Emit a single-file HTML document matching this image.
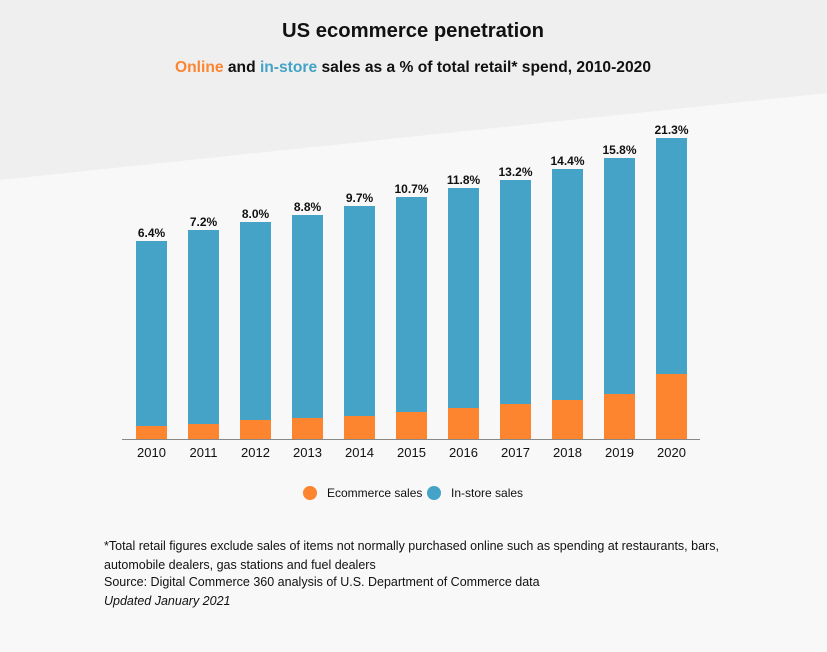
<!DOCTYPE html>
<html><head><meta charset="utf-8"><style>
html,body{margin:0;padding:0;background:#f8f8f8;}
svg{display:block;font-family:"Liberation Sans",sans-serif;}
</style></head><body>
<svg width="827" height="652" viewBox="0 0 827 652" xmlns="http://www.w3.org/2000/svg">
<rect width="827" height="652" fill="#f8f8f8"/>
<polygon points="0,0 827,0 827,93 0,180" fill="#efefef"/>
<text x="413" y="37" text-anchor="middle" font-size="20" font-weight="bold" fill="#111" textLength="262" lengthAdjust="spacingAndGlyphs">US ecommerce penetration</text>
<text x="413" y="72" text-anchor="middle" font-size="16" font-weight="bold" fill="#111" textLength="476" lengthAdjust="spacingAndGlyphs"><tspan fill="#fd8530">Online</tspan> and <tspan fill="#44a3c6">in-store</tspan> sales as a % of total retail* spend, 2010-2020</text>
<g id="bars" font-size="12" font-weight="bold" fill="#111" text-anchor="middle">
<rect x="136" y="241" width="31" height="185" fill="#44a3c6"/><rect x="136" y="426" width="31" height="13" fill="#fd8530"/><text x="151.5" y="237">6.4%</text><text x="151.5" y="457" font-weight="normal" font-size="13">2010</text>
<rect x="188" y="230" width="31" height="194" fill="#44a3c6"/><rect x="188" y="424" width="31" height="15" fill="#fd8530"/><text x="203.5" y="226">7.2%</text><text x="203.5" y="457" font-weight="normal" font-size="13">2011</text>
<rect x="240" y="222" width="31" height="198" fill="#44a3c6"/><rect x="240" y="420" width="31" height="19" fill="#fd8530"/><text x="255.5" y="218">8.0%</text><text x="255.5" y="457" font-weight="normal" font-size="13">2012</text>
<rect x="292" y="215" width="31" height="203" fill="#44a3c6"/><rect x="292" y="418" width="31" height="21" fill="#fd8530"/><text x="307.5" y="211">8.8%</text><text x="307.5" y="457" font-weight="normal" font-size="13">2013</text>
<rect x="344" y="206" width="31" height="210" fill="#44a3c6"/><rect x="344" y="416" width="31" height="23" fill="#fd8530"/><text x="359.5" y="202">9.7%</text><text x="359.5" y="457" font-weight="normal" font-size="13">2014</text>
<rect x="396" y="197" width="31" height="215" fill="#44a3c6"/><rect x="396" y="412" width="31" height="27" fill="#fd8530"/><text x="411.5" y="193">10.7%</text><text x="411.5" y="457" font-weight="normal" font-size="13">2015</text>
<rect x="448" y="188" width="31" height="220" fill="#44a3c6"/><rect x="448" y="408" width="31" height="31" fill="#fd8530"/><text x="463.5" y="184">11.8%</text><text x="463.5" y="457" font-weight="normal" font-size="13">2016</text>
<rect x="500" y="180" width="31" height="224" fill="#44a3c6"/><rect x="500" y="404" width="31" height="35" fill="#fd8530"/><text x="515.5" y="176">13.2%</text><text x="515.5" y="457" font-weight="normal" font-size="13">2017</text>
<rect x="552" y="169" width="31" height="231" fill="#44a3c6"/><rect x="552" y="400" width="31" height="39" fill="#fd8530"/><text x="567.5" y="165">14.4%</text><text x="567.5" y="457" font-weight="normal" font-size="13">2018</text>
<rect x="604" y="158" width="31" height="236" fill="#44a3c6"/><rect x="604" y="394" width="31" height="45" fill="#fd8530"/><text x="619.5" y="154">15.8%</text><text x="619.5" y="457" font-weight="normal" font-size="13">2019</text>
<rect x="656" y="138" width="31" height="236" fill="#44a3c6"/><rect x="656" y="374" width="31" height="65" fill="#fd8530"/><text x="671.5" y="134">21.3%</text><text x="671.5" y="457" font-weight="normal" font-size="13">2020</text>
</g>
<line x1="122" y1="439.5" x2="700" y2="439.5" stroke="#888" stroke-width="1"/>
<circle cx="310" cy="493" r="7" fill="#fd8530"/>
<text x="327" y="497" font-size="12" fill="#111">Ecommerce sales</text>
<circle cx="434" cy="493" r="7" fill="#44a3c6"/>
<text x="451" y="497" font-size="12" fill="#111">In-store sales</text>
<g font-size="12.5" fill="#111">
<text x="104" y="550">*Total retail figures exclude sales of items not normally purchased online such as spending at restaurants, bars,</text>
<text x="104" y="569">automobile dealers, gas stations and fuel dealers</text>
<text x="104" y="586">Source: Digital Commerce 360 analysis of U.S. Department of Commerce data</text>
<text x="104" y="605" font-style="italic">Updated January 2021</text>
</g>
</svg>
</body></html>
